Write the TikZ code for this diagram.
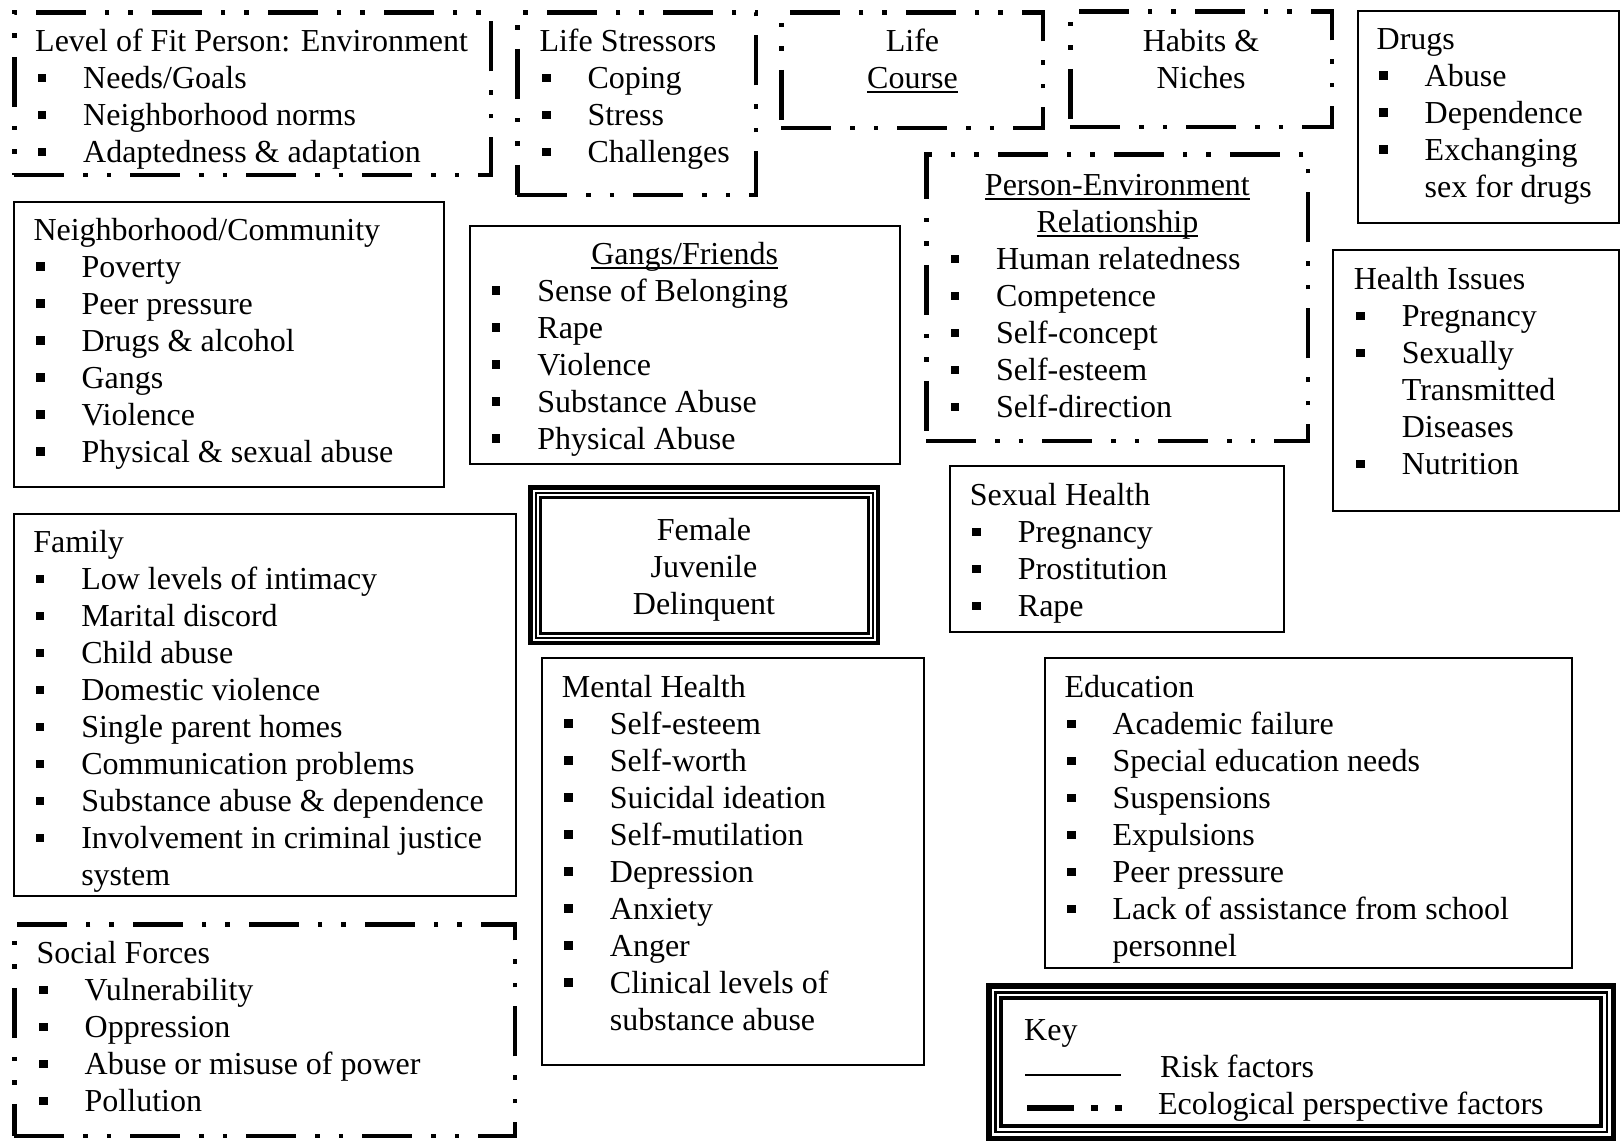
\documentclass[tikz,border=0pt]{standalone}
\usepackage{fontspec}
\setmainfont{Liberation Serif}

\newcommand{\fs}{\fontsize{32}{37}\selectfont}
\newcommand{\bul}{\makebox[48pt][l]{\hspace*{2.5pt}\rule[6.5pt]{8.5pt}{8.5pt}}}
\newcommand{\cont}{\hspace*{48pt}}
\newsavebox{\ulbox}
\newcommand{\ulword}[1]{\sbox{\ulbox}{#1}\rlap{\rule[-4.5pt]{\wd\ulbox}{1.6pt}}\usebox{\ulbox}}
% name, style, x1, y1, x2, y2 (outer edges), inset
\newcommand{\factorbox}[7]{\node[#2, minimum width={#5-#3-2*#7}, minimum height={#6-#4-2*#7}] (#1) at ({(#3+#5)/2},{(#4+#6)/2}) {};}

\begin{document}
\begin{tikzpicture}[x=1pt,y=-1pt,
  riskbox/.style={draw, line width=2pt, inner sep=0pt, outer sep=0pt},
  ecobox/.style={draw, line width=4.5pt, dash pattern=on 50pt off 19pt on 4.5pt off 19pt on 4.5pt off 19pt, inner sep=0pt, outer sep=0pt},
  ringA/.style={draw, line width=4.5pt, inner sep=0pt},
  ringB/.style={draw, line width=2pt, inner sep=0pt},
  ringC/.style={draw, line width=3pt, inner sep=0pt},
  txt/.style={inner sep=0pt, font=\fs, anchor=base west},
  ctxt/.style={inner sep=0pt, font=\fs, anchor=base}]

\useasboundingbox (0,0) rectangle (1621,1141);

% ecological perspective factors
\factorbox{fit}{ecobox}{12}{10}{493}{177}{2.25}
\factorbox{stress}{ecobox}{515}{10}{758}{197}{2.25}
\factorbox{course}{ecobox}{779}{10}{1045}{130}{2.25}
\factorbox{habits}{ecobox}{1068}{9}{1334}{129}{2.25}
\factorbox{persenv}{ecobox}{924}{152}{1310}{443}{2.25}
\factorbox{social}{ecobox}{12}{922}{517}{1138}{2.25}

% risk factors
\factorbox{drugs}{riskbox}{1357}{10}{1620}{224}{1}
\factorbox{neigh}{riskbox}{12.7}{201}{445}{488}{1}
\factorbox{gangs}{riskbox}{469}{225}{900.5}{465}{1}
\factorbox{health}{riskbox}{1332}{249}{1620}{512}{1}
\factorbox{sexual}{riskbox}{948.5}{465}{1285}{633}{1}
\factorbox{family}{riskbox}{12.8}{513}{517}{897}{1}
\factorbox{mental}{riskbox}{541}{657}{925}{1066}{1}
\factorbox{educ}{riskbox}{1044}{657}{1573}{969}{1}

% centre box and key
\factorbox{fjd}{ringA}{528}{485}{880}{645}{2.25}
\factorbox{fjdB}{ringB}{528}{485}{880}{645}{7.5}
\factorbox{fjdC}{ringC}{528}{485}{880}{645}{12}
\factorbox{key}{ringA, line width=5.5pt}{986}{983}{1616}{1141}{2.75}
\factorbox{keyB}{ringB, line width=2.5pt}{986}{983}{1616}{1141}{9.25}
\factorbox{keyC}{ringC, line width=4pt}{986}{983}{1616}{1141}{15}

\node[txt] (fitT) at (35,51.7) {\begin{tabular}[t]{@{}l@{}}Level of Fit Person: Environment\\ \bul Needs/Goals\\ \bul Neighborhood norms\\ \bul Adaptedness \& adaptation\end{tabular}};
\node[txt] (stressT) at (539.3,51.7) {\begin{tabular}[t]{@{}l@{}}Life Stressors\\ \bul Coping\\ \bul Stress\\ \bul Challenges\end{tabular}};
\node[ctxt] (courseT) at (912.5,51.5) {\begin{tabular}[t]{@{}c@{}}Life\\ \ulword{Course}\end{tabular}};
\node[ctxt] (habitsT) at (1201,51.5) {\begin{tabular}[t]{@{}c@{}}Habits \&\\ Niches\end{tabular}};
\node[txt] (drugsT) at (1376.5,49) {\begin{tabular}[t]{@{}l@{}}Drugs\\ \bul Abuse\\ \bul Dependence\\ \bul Exchanging\\ \cont sex for drugs\end{tabular}};
\node[txt] (neighT) at (33.3,240) {\begin{tabular}[t]{@{}l@{}}Neighborhood/Community\\ \bul Poverty\\ \bul Peer pressure\\ \bul Drugs \& alcohol\\ \bul Gangs\\ \bul Violence\\ \bul Physical \& sexual abuse\end{tabular}};
\node[ctxt] (gangsH) at (684.7,264) {\ulword{Gangs/Friends}};
\node[txt] (gangsT) at (489.2,301) {\begin{tabular}[t]{@{}l@{}}\bul Sense of Belonging\\ \bul Rape\\ \bul Violence\\ \bul Substance Abuse\\ \bul Physical Abuse\end{tabular}};
\node[ctxt] (persenvH) at (1117.4,195) {\begin{tabular}[t]{@{}c@{}}\ulword{Person-Environment}\\ \ulword{Relationship}\end{tabular}};
\node[txt] (persenvT) at (947.9,269.5) {\begin{tabular}[t]{@{}l@{}}\bul Human relatedness\\ \bul Competence\\ \bul Self-concept\\ \bul Self-esteem\\ \bul Self-direction\end{tabular}};
\node[txt] (healthT) at (1353.6,289.5) {\begin{tabular}[t]{@{}l@{}}Health Issues\\ \bul Pregnancy\\ \bul Sexually\\ \cont Transmitted\\ \cont Diseases\\ \bul Nutrition\end{tabular}};
\node[ctxt] (fjdT) at (704,540.5) {\begin{tabular}[t]{@{}c@{}}Female\\ Juvenile\\ Delinquent\end{tabular}};
\node[txt] (sexualT) at (969.7,505.5) {\begin{tabular}[t]{@{}l@{}}Sexual Health\\ \bul Pregnancy\\ \bul Prostitution\\ \bul Rape\end{tabular}};
\node[txt] (familyT) at (33.1,552.7) {\begin{tabular}[t]{@{}l@{}}Family\\ \bul Low levels of intimacy\\ \bul Marital discord\\ \bul Child abuse\\ \bul Domestic violence\\ \bul Single parent homes\\ \bul Communication problems\\ \bul Substance abuse \& dependence\\ \bul Involvement in criminal justice\\ \cont system\end{tabular}};
\node[txt] (mentalT) at (561.7,697) {\begin{tabular}[t]{@{}l@{}}Mental Health\\ \bul Self-esteem\\ \bul Self-worth\\ \bul Suicidal ideation\\ \bul Self-mutilation\\ \bul Depression\\ \bul Anxiety\\ \bul Anger\\ \bul Clinical levels of\\ \cont substance abuse\end{tabular}};
\node[txt] (educT) at (1064.4,697.5) {\begin{tabular}[t]{@{}l@{}}Education\\ \bul Academic failure\\ \bul Special education needs\\ \bul Suspensions\\ \bul Expulsions\\ \bul Peer pressure\\ \bul Lack of assistance from school\\ \cont personnel\end{tabular}};
\node[txt] (socialT) at (36.5,963.7) {\begin{tabular}[t]{@{}l@{}}Social Forces\\ \bul Vulnerability\\ \bul Oppression\\ \bul Abuse or misuse of power\\ \bul Pollution\end{tabular}};

% key
\node[txt] (keyT) at (1024,1040) {Key};
\node[txt] (riskT) at (1160,1077) {Risk factors};
\node[txt] (ecoT) at (1157.8,1114) {Ecological perspective factors};
\coordinate (riskA) at (1025,1075);
\coordinate (riskB) at (1121,1075);
\coordinate (ecoA) at (1027,1108);
\coordinate (ecoB) at (1122,1108);
\draw[line width=1.6pt] (riskA) -- (riskB);
\draw[line width=5.7pt, dash pattern=on 47pt off 17pt on 7pt off 17pt on 7pt off 30pt] (ecoA) -- (ecoB);

\end{tikzpicture}
\end{document}
